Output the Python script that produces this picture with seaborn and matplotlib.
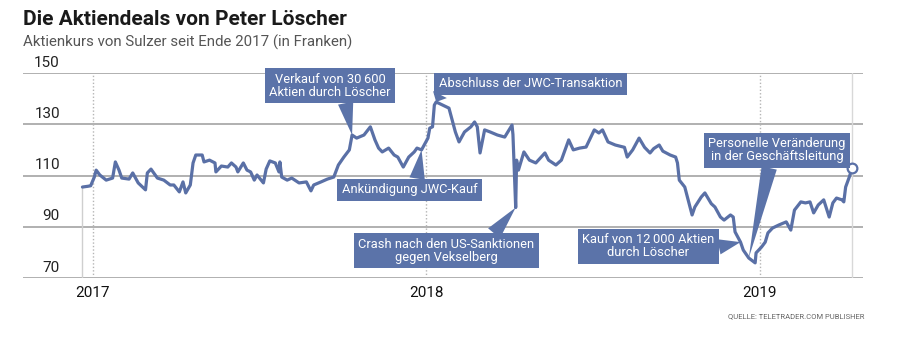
import pandas as pd
import matplotlib
matplotlib.use("Agg")
import matplotlib.pyplot as plt
import seaborn as sns

# =========================
# DATA
# =========================
dates = [
    "2016-12-21", "2016-12-27", "2016-12-30", "2017-01-03", "2017-01-05", "2017-01-09",
    "2017-01-16", "2017-01-23", "2017-01-26", "2017-01-30", "2017-02-02", "2017-02-10",
    "2017-02-14", "2017-02-20", "2017-02-28", "2017-03-02", "2017-03-06", "2017-03-13",
    "2017-03-20", "2017-03-27", "2017-03-31", "2017-04-06", "2017-04-10", "2017-04-13",
    "2017-04-18", "2017-04-21", "2017-04-24", "2017-05-01", "2017-05-03", "2017-05-09",
    "2017-05-15", "2017-05-16", "2017-05-22", "2017-05-29", "2017-06-02", "2017-06-07",
    "2017-06-09", "2017-06-15", "2017-06-19", "2017-06-23", "2017-06-27", "2017-06-30",
    "2017-07-07", "2017-07-10", "2017-07-14", "2017-07-20", "2017-07-24", "2017-07-25",
    "2017-07-27", "2017-08-02", "2017-08-07", "2017-08-15", "2017-08-23", "2017-08-28",
    "2017-08-31", "2017-09-08", "2017-09-15", "2017-09-22", "2017-09-27", "2017-10-03",
    "2017-10-09", "2017-10-12", "2017-10-17", "2017-10-25", "2017-11-01", "2017-11-06",
    "2017-11-10", "2017-11-14", "2017-11-21", "2017-11-27", "2017-12-01", "2017-12-07",
    "2017-12-13", "2017-12-19", "2017-12-22", "2017-12-27", "2018-01-03", "2018-01-05",
    "2018-01-08", "2018-01-10", "2018-01-12", "2018-01-19", "2018-01-26", "2018-01-30",
    "2018-02-02", "2018-02-06", "2018-02-12", "2018-02-19", "2018-02-23", "2018-02-26",
    "2018-03-01", "2018-03-06", "2018-03-12", "2018-03-20", "2018-03-28", "2018-04-05",
    "2018-04-06", "2018-04-09", "2018-04-10", "2018-04-12", "2018-04-18", "2018-04-24",
    "2018-05-01", "2018-05-11", "2018-05-15", "2018-05-23", "2018-05-29", "2018-06-06",
    "2018-06-11", "2018-06-18", "2018-06-25", "2018-07-04", "2018-07-09", "2018-07-13",
    "2018-07-19", "2018-07-27", "2018-08-06", "2018-08-09", "2018-08-15", "2018-08-22",
    "2018-08-28", "2018-09-03", "2018-09-07", "2018-09-13", "2018-09-17", "2018-09-25",
    "2018-10-01", "2018-10-03", "2018-10-05", "2018-10-11", "2018-10-19", "2018-10-22",
    "2018-10-29", "2018-11-02", "2018-11-09", "2018-11-13", "2018-11-19", "2018-11-23",
    "2018-11-30", "2018-12-03", "2018-12-05", "2018-12-11", "2018-12-14", "2018-12-20",
    "2018-12-27", "2018-12-28", "2019-01-03", "2019-01-07", "2019-01-10", "2019-01-15",
    "2019-01-22", "2019-01-30", "2019-02-04", "2019-02-08", "2019-02-15", "2019-02-20",
    "2019-02-25", "2019-03-01", "2019-03-06", "2019-03-12", "2019-03-18", "2019-03-22",
    "2019-03-26", "2019-04-01", "2019-04-03", "2019-04-05", "2019-04-09", "2019-04-12",
]
prices = [
    105.5, 105.8, 106.0, 109.4, 112.1, 110.2,
    108.2, 109.0, 115.3, 112.1, 109.0, 108.6,
    111.0, 107.1, 104.4, 111.0, 112.5, 109.0,
    108.2, 106.3, 106.3, 103.6, 107.5, 103.2,
    106.3, 114.9, 118.0, 118.0, 115.3, 116.0,
    114.9, 111.4, 113.7, 113.3, 114.9, 113.3,
    111.4, 114.9, 112.1, 111.4, 108.2, 110.2,
    107.1, 112.5, 115.7, 114.9, 111.4, 115.3,
    109.4, 108.2, 109.0, 107.1, 107.5, 104.0,
    106.3, 107.5, 108.6, 109.4, 114.1, 117.2,
    120.0, 125.8, 124.6, 125.8, 129.0, 123.9,
    120.7, 119.2, 120.7, 118.0, 117.2, 113.3,
    117.2, 119.2, 120.7, 120.0, 124.6, 128.5,
    129.0, 137.5, 138.7, 137.5, 136.3, 130.9,
    127.0, 123.1, 127.0, 129.0, 130.9, 129.0,
    118.8, 127.8, 127.0, 125.8, 125.0, 129.7,
    126.0, 97.5, 116.0, 112.1, 119.2, 116.0,
    114.9, 118.8, 116.0, 114.1, 116.0, 123.9,
    120.0, 120.7, 121.1, 127.8, 126.6, 127.8,
    123.1, 121.9, 121.0, 117.2, 120.0, 124.6,
    121.0, 118.8, 120.5, 121.9, 119.5, 118.0,
    117.2, 114.9, 108.2, 105.5, 94.6, 97.7,
    101.6, 103.2, 99.0, 97.7, 93.8, 92.6,
    94.6, 93.8, 88.0, 84.0, 80.9, 77.8,
    75.9, 79.8, 82.1, 84.0, 87.6, 89.5,
    90.7, 91.9, 88.7, 96.5, 99.7, 99.3,
    99.7, 95.4, 98.5, 100.5, 93.8, 99.3,
    101.2, 100.5, 99.7, 105.5, 109.4, 112.9,
]

y_ticks = [70, 90, 110, 130, 150]
year_dates = ["2017-01-01", "2018-01-01", "2019-01-01"]
year_labels = ["2017", "2018", "2019"]

event_dates = ["2017-10-12", "2018-01-12", "2017-12-27", "2018-04-09", "2018-12-11", "2018-12-20"]
event_labels = [
    "Verkauf von 30\u2009600\nAktien durch Löscher",
    "Abschluss der JWC-Transaktion",
    "Ankündigung JWC-Kauf",
    "Crash nach den US-Sanktionen\ngegen Vekselberg",
    "Kauf von 12\u2009000 Aktien\ndurch Löscher",
    "Personelle Veränderung\nin der Geschäftsleitung",
]

# layout of the label boxes: (text date, text value, relpos of wedge on box)
label_layout = [
    ("2017-09-18", 145.1, (0.62, 0.0)),
    ("2018-04-25", 145.9, (0.02, 0.0)),
    ("2017-12-14", 104.5, (0.55, 1.0)),
    ("2018-01-23", 80.6, (0.75, 1.0)),
    ("2018-09-01", 82.3, (1.0, 0.45)),
    ("2019-01-20", 119.8, (0.45, 0.0)),
]

source = "QUELLE: TELETRADER.COM PUBLISHER"

# =========================
# STYLE
# =========================
sns.set_style("white")
plt.rcParams["font.family"] = ["Roboto", "DejaVu Sans"]

LINE_COL = "#5a70a6"
BOX_COL = "#5b73a9"
GRID_COL = "#a3a3a3"

df = pd.DataFrame({"Datum": pd.to_datetime(dates), "Kurs": prices})

fig = plt.figure(figsize=(9, 3.56), dpi=100)
ax = fig.add_axes([0.0256, 0.2191, 0.9333, 0.5758])

# grid lines and year markers
for v in y_ticks:
    ax.axhline(v, color=GRID_COL, lw=1.2, zorder=1)
    ax.annotate(str(v), xy=(0.044, v), xycoords=ax.get_yaxis_transform(),
                xytext=(0, 2.5), textcoords="offset points",
                ha="right", va="bottom", fontsize=11, color="#222222")
for d in year_dates:
    ax.axvline(pd.Timestamp(d), color="#b5b5b5", lw=1, ls=(0, (1, 1.5)), zorder=1)

# thin range markers at start and end of the series
ax.vlines(df["Datum"].iloc[0], y_ticks[0], df["Kurs"].iloc[0], color="#cfcfcf", lw=1, zorder=1)
ax.axvline(df["Datum"].iloc[-1], color="#d8d8d8", lw=1, zorder=1)

sns.lineplot(data=df, x="Datum", y="Kurs", ax=ax, color=LINE_COL, lw=2.3, zorder=3)
ax.plot(df["Datum"].iloc[-1], df["Kurs"].iloc[-1], "o", ms=7, mfc="white",
        mec=LINE_COL, mew=1.6, zorder=4)

# annotation boxes with wedge pointers
for d, lab, (tx, ty, rp) in zip(event_dates, event_labels, label_layout):
    tip = pd.Timestamp(d)
    val = df.loc[df["Datum"] == tip, "Kurs"].iloc[0]
    ax.annotate(lab, xy=(tip, val), xytext=(pd.Timestamp(tx), ty),
                ha="center", va="center", fontsize=9.3, color="white",
                linespacing=1.0, zorder=5,
                bbox=dict(boxstyle="square,pad=0.35", fc=BOX_COL, ec="none"),
                arrowprops=dict(arrowstyle="wedge,tail_width=1.2,shrink_factor=0.5",
                                fc=BOX_COL, ec="none", relpos=rp,
                                shrinkA=0, shrinkB=0))

ax.set_xlim(pd.Timestamp("2016-10-17"), pd.Timestamp("2019-04-24"))
ax.set_ylim(70, 150)
ax.set_xticks([pd.Timestamp(d) for d in year_dates])
ax.set_xticklabels(year_labels, fontsize=11, color="#111111")
ax.set_yticks([])
ax.tick_params(axis="x", length=0, pad=6)
ax.set_xlabel("")
ax.set_ylabel("")
for s in ax.spines.values():
    s.set_visible(False)

fig.text(23 / 900, 1 - 25 / 356, "Die Aktiendeals von Peter Löscher",
         fontsize=15, fontweight="bold", color="#1a1a1a", va="baseline")
fig.text(23 / 900, 1 - 47 / 356, "Aktienkurs von Sulzer seit Ende 2017 (in Franken)",
         fontsize=10.8, color="#555555", va="baseline")
fig.text(865 / 900, 1 - 318 / 356, source, fontsize=5.5, color="#666666",
         ha="right", va="baseline")

fig.savefig("out.png", dpi=100)
